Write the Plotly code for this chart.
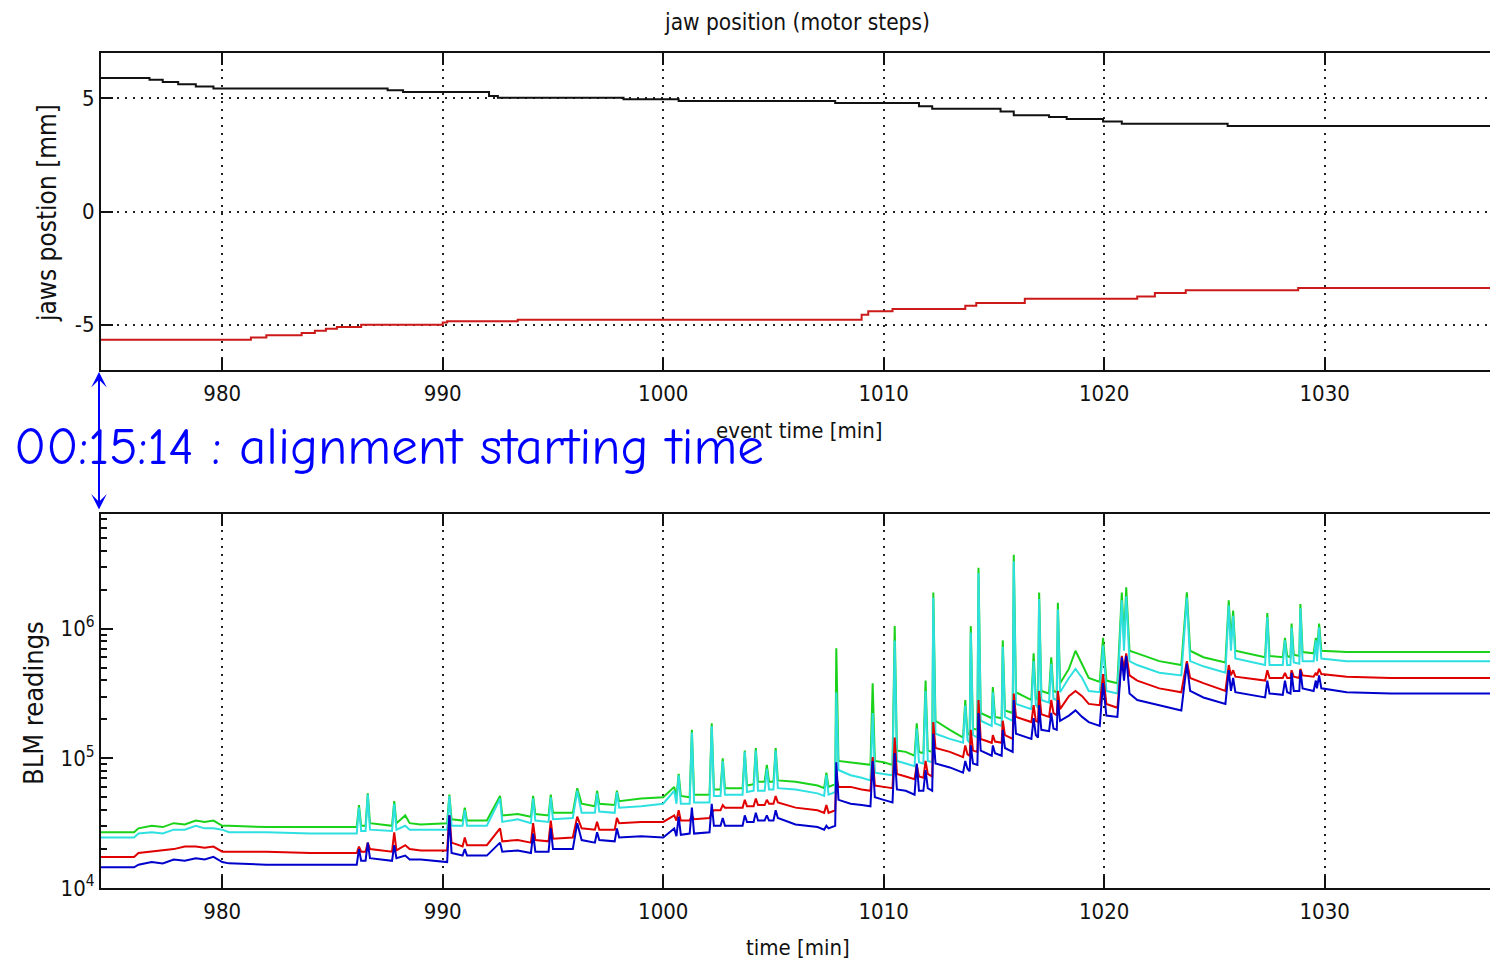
import plotly.graph_objects as go

# ---------------- jaw positions (mm) vs event time (min) ----------------
t_jaw_up = [974.5, 976.7, 977.3, 978.0, 978.8, 979.6, 987.5, 988.2, 992.1, 992.5,
            998.2, 1000.7, 1007.8, 1011.6, 1012.2, 1015.3, 1015.9, 1017.5, 1018.3,
            1019.95, 1020.8, 1025.6, 1037.5]
jaw_up_mm = [5.9, 5.82, 5.72, 5.62, 5.52, 5.43, 5.36, 5.28, 5.1, 5.02,
             4.96, 4.88, 4.79, 4.65, 4.54, 4.42, 4.25, 4.17, 4.08,
             3.98, 3.88, 3.78, 3.78]

t_jaw_low = [974.5, 981.3, 982.0, 983.6, 984.2, 984.7, 985.2, 986.3, 990.0, 990.2,
             993.4, 1009.0, 1009.3, 1010.4, 1013.7, 1014.2, 1016.4, 1021.5, 1022.3,
             1023.7, 1028.8, 1037.5]
jaw_low_mm = [-5.66, -5.56, -5.47, -5.37, -5.27, -5.18, -5.1, -5.0, -4.9, -4.85,
              -4.78, -4.56, -4.41, -4.31, -4.16, -4.04, -3.85, -3.75, -3.6,
              -3.48, -3.38, -3.38]

# ---------------- BLM readings (log10 of reading) vs time (min) ----------------
t_blm = [974.5, 976.0, 976.2, 976.8, 977.3, 977.8, 978.3, 978.8, 979.2, 979.6,
         980.0, 980.3, 982.0, 984.0, 986.1, 986.2, 986.3, 986.5, 986.6, 986.7,
         987.7, 987.8, 987.9, 988.3, 988.5, 989.0, 990.2, 990.3, 990.4, 990.9,
         991.0, 991.1, 992.0, 992.6, 992.7, 993.4, 994.0, 994.1, 994.2, 994.8,
         994.9, 995.0, 995.9, 996.1, 996.3, 996.9, 997.0, 997.1, 997.8, 997.9,
         998.0, 999.0, 1000.0, 1000.5, 1000.6, 1000.7, 1000.8, 1001.2, 1001.3, 1001.4,
         1002.1, 1002.2, 1002.3, 1002.6, 1002.7, 1002.8, 1003.6, 1003.7, 1003.8, 1004.1,
         1004.2, 1004.3, 1004.6, 1004.7, 1004.8, 1005.0, 1005.1, 1005.2, 1006.0, 1007.0,
         1007.3, 1007.4, 1007.5, 1007.8, 1007.85, 1007.95, 1008.5, 1009.0, 1009.4, 1009.5,
         1009.6, 1010.0, 1010.4, 1010.5, 1010.6, 1011.0, 1011.4, 1011.5, 1011.6, 1011.8,
         1011.9, 1012.0, 1012.2, 1012.25, 1012.35, 1013.0, 1013.6, 1013.7, 1013.8, 1013.9,
         1013.95, 1014.05, 1014.25, 1014.3, 1014.4, 1014.9, 1014.95, 1015.05, 1015.35, 1015.4,
         1015.5, 1015.85, 1015.9, 1016.0, 1016.7, 1016.8, 1016.9, 1017.0, 1017.05, 1017.15,
         1017.5, 1017.6, 1017.7, 1017.85, 1017.9, 1018.0, 1018.4, 1018.7, 1019.0, 1019.3,
         1019.8, 1019.95, 1020.1, 1020.6, 1020.8, 1020.9, 1021.0, 1021.15, 1021.5, 1022.5,
         1023.5, 1023.75, 1023.9, 1024.5, 1025.5, 1025.65, 1025.75, 1025.85, 1025.95, 1027.3,
         1027.4, 1027.5, 1028.1, 1028.2, 1028.3, 1028.45, 1028.5, 1028.6, 1028.85, 1028.9,
         1029.0, 1029.5, 1029.6, 1029.65, 1029.75, 1029.85, 1031.0, 1033.0, 1035.0, 1037.5]

blm_green_log10 = [4.43, 4.43, 4.46, 4.48, 4.47, 4.50, 4.49, 4.52, 4.51, 4.52,
                   4.48, 4.48, 4.47, 4.47, 4.47, 4.64, 4.48, 4.48, 4.73, 4.50,
                   4.48, 4.67, 4.50, 4.56, 4.50, 4.49, 4.50, 4.72, 4.53, 4.52,
                   4.62, 4.52, 4.52, 4.71, 4.56, 4.57, 4.55, 4.71, 4.57, 4.56,
                   4.72, 4.58, 4.58, 4.77, 4.65, 4.63, 4.75, 4.65, 4.64, 4.75,
                   4.67, 4.69, 4.70, 4.78, 4.70, 4.88, 4.71, 4.70, 5.22, 4.72,
                   4.72, 5.27, 4.76, 4.76, 5.00, 4.77, 4.77, 5.06, 4.79, 4.80,
                   5.08, 4.82, 4.82, 4.95, 4.82, 4.82, 5.08, 4.83, 4.82, 4.79,
                   4.77, 4.89, 4.78, 4.80, 5.85, 4.98, 4.97, 4.96, 4.95, 5.58,
                   4.98, 4.97, 4.95, 6.02, 5.06, 5.05, 5.02, 5.27, 5.05, 5.04,
                   5.60, 5.06, 5.05, 6.28, 5.29, 5.22, 5.16, 5.45, 5.19, 5.18,
                   6.02, 5.23, 5.22, 6.47, 5.35, 5.31, 5.55, 5.32, 5.31, 5.91,
                   5.37, 5.35, 6.57, 5.51, 5.45, 5.81, 5.47, 5.45, 6.28, 5.52,
                   5.50, 5.78, 5.52, 5.51, 6.20, 5.58, 5.69, 5.83, 5.72, 5.62,
                   5.59, 5.93, 5.60, 5.58, 6.28, 5.91, 6.32, 5.83, 5.81, 5.75,
                   5.72, 6.28, 5.83, 5.78, 5.74, 6.22, 5.91, 6.14, 5.83, 5.78,
                   6.12, 5.79, 5.78, 5.93, 5.79, 5.78, 6.04, 5.80, 5.79, 6.19,
                   5.82, 5.81, 5.93, 5.82, 6.04, 5.83, 5.82, 5.82, 5.82, 5.82]

blm_cyan_log10 = [4.39, 4.39, 4.42, 4.43, 4.42, 4.45, 4.45, 4.48, 4.46, 4.46,
                  4.45, 4.43, 4.43, 4.42, 4.42, 4.62, 4.44, 4.44, 4.72, 4.45,
                  4.44, 4.65, 4.45, 4.48, 4.45, 4.45, 4.45, 4.71, 4.48, 4.48,
                  4.60, 4.48, 4.48, 4.69, 4.51, 4.53, 4.50, 4.69, 4.52, 4.51,
                  4.70, 4.53, 4.54, 4.75, 4.58, 4.58, 4.73, 4.59, 4.58, 4.74,
                  4.62, 4.63, 4.65, 4.75, 4.65, 4.87, 4.65, 4.65, 5.20, 4.66,
                  4.66, 5.25, 4.71, 4.71, 4.98, 4.72, 4.72, 5.05, 4.74, 4.75,
                  5.06, 4.75, 4.75, 4.92, 4.76, 4.76, 5.06, 4.77, 4.76, 4.73,
                  4.71, 4.87, 4.72, 4.74, 5.51, 4.91, 4.87, 4.85, 4.83, 5.35,
                  4.89, 4.88, 4.87, 5.91, 4.98, 4.96, 4.94, 5.23, 4.97, 4.96,
                  5.52, 4.98, 4.97, 6.24, 5.19, 5.15, 5.12, 5.41, 5.14, 5.12,
                  5.97, 5.18, 5.16, 6.43, 5.29, 5.25, 5.51, 5.27, 5.25, 5.86,
                  5.32, 5.29, 6.52, 5.42, 5.38, 5.75, 5.41, 5.39, 6.23, 5.45,
                  5.43, 5.73, 5.46, 5.45, 6.15, 5.51, 5.62, 5.69, 5.62, 5.52,
                  5.51, 5.87, 5.52, 5.50, 6.22, 5.83, 6.25, 5.75, 5.72, 5.66,
                  5.64, 6.24, 5.75, 5.71, 5.66, 6.18, 5.83, 6.10, 5.77, 5.72,
                  6.09, 5.72, 5.72, 5.91, 5.72, 5.72, 6.01, 5.74, 5.73, 6.16,
                  5.75, 5.75, 5.91, 5.75, 6.01, 5.77, 5.75, 5.75, 5.75, 5.75]

blm_red_log10 = [4.24, 4.24, 4.27, 4.28, 4.29, 4.30, 4.32, 4.32, 4.31, 4.32,
                 4.28, 4.28, 4.28, 4.27, 4.27, 4.32, 4.28, 4.28, 4.35, 4.30,
                 4.28, 4.43, 4.29, 4.33, 4.30, 4.29, 4.29, 4.56, 4.35, 4.32,
                 4.39, 4.33, 4.33, 4.46, 4.36, 4.37, 4.35, 4.50, 4.37, 4.36,
                 4.52, 4.38, 4.39, 4.55, 4.46, 4.45, 4.51, 4.45, 4.45, 4.54,
                 4.50, 4.51, 4.51, 4.56, 4.52, 4.60, 4.52, 4.52, 4.56, 4.53,
                 4.54, 4.58, 4.60, 4.60, 4.64, 4.62, 4.62, 4.68, 4.63, 4.63,
                 4.69, 4.64, 4.64, 4.68, 4.65, 4.65, 4.71, 4.66, 4.62, 4.60,
                 4.58, 4.64, 4.58, 4.60, 4.86, 4.78, 4.78, 4.76, 4.75, 5.01,
                 4.79, 4.78, 4.77, 5.16, 4.88, 4.86, 4.84, 4.95, 4.86, 4.85,
                 4.98, 4.88, 4.86, 5.28, 5.08, 5.05, 5.01, 5.10, 5.03, 5.02,
                 5.22, 5.06, 5.05, 5.45, 5.15, 5.12, 5.18, 5.13, 5.12, 5.29,
                 5.18, 5.15, 5.50, 5.32, 5.28, 5.41, 5.29, 5.28, 5.52, 5.34,
                 5.32, 5.45, 5.35, 5.33, 5.52, 5.38, 5.48, 5.52, 5.48, 5.42,
                 5.41, 5.65, 5.42, 5.39, 5.79, 5.69, 5.81, 5.64, 5.60, 5.54,
                 5.51, 5.75, 5.62, 5.58, 5.52, 5.72, 5.64, 5.68, 5.63, 5.60,
                 5.68, 5.62, 5.62, 5.66, 5.62, 5.62, 5.68, 5.63, 5.62, 5.69,
                 5.64, 5.63, 5.66, 5.64, 5.69, 5.65, 5.63, 5.62, 5.62, 5.62]

blm_blue_log10 = [4.16, 4.16, 4.18, 4.20, 4.19, 4.22, 4.21, 4.23, 4.22, 4.24,
                  4.20, 4.19, 4.18, 4.18, 4.18, 4.30, 4.21, 4.21, 4.35, 4.23,
                  4.21, 4.33, 4.23, 4.25, 4.22, 4.22, 4.20, 4.56, 4.27, 4.25,
                  4.30, 4.25, 4.25, 4.35, 4.28, 4.29, 4.27, 4.42, 4.28, 4.28,
                  4.46, 4.30, 4.30, 4.50, 4.37, 4.35, 4.43, 4.37, 4.36, 4.46,
                  4.39, 4.40, 4.39, 4.46, 4.40, 4.55, 4.41, 4.42, 4.62, 4.42,
                  4.43, 4.65, 4.48, 4.48, 4.54, 4.48, 4.48, 4.56, 4.51, 4.51,
                  4.58, 4.52, 4.52, 4.56, 4.52, 4.52, 4.60, 4.54, 4.49, 4.47,
                  4.45, 4.48, 4.46, 4.48, 4.97, 4.68, 4.65, 4.64, 4.63, 4.98,
                  4.70, 4.68, 4.66, 5.04, 4.76, 4.75, 4.72, 4.96, 4.75, 4.75,
                  4.91, 4.77, 4.75, 5.19, 4.96, 4.93, 4.89, 4.98, 4.92, 4.90,
                  5.10, 4.96, 4.95, 5.35, 5.06, 5.02, 5.10, 5.04, 5.02, 5.22,
                  5.08, 5.05, 5.45, 5.19, 5.15, 5.31, 5.18, 5.16, 5.41, 5.22,
                  5.21, 5.35, 5.23, 5.22, 5.45, 5.29, 5.33, 5.37, 5.32, 5.28,
                  5.25, 5.58, 5.33, 5.32, 5.78, 5.60, 5.79, 5.50, 5.45, 5.41,
                  5.37, 5.73, 5.52, 5.47, 5.42, 5.68, 5.52, 5.62, 5.51, 5.47,
                  5.60, 5.50, 5.49, 5.60, 5.51, 5.50, 5.66, 5.52, 5.52, 5.68,
                  5.54, 5.52, 5.60, 5.54, 5.64, 5.54, 5.51, 5.50, 5.50, 5.50]

x_ticks = [980, 990, 1000, 1010, 1020, 1030]
jaw_ticks = [-5, 0, 5]
jaw_ticktext = ["-5", "0", "5"]
blm_ticks = [1e4, 1e5, 1e6]
blm_ticktext = ["10<sup>4</sup>", "10<sup>5</sup>", "10<sup>6</sup>"]
blm_minor = [m * 10 ** e for e in (4, 5, 6) for m in range(2, 10) if m * 10 ** e < 7.6e6]

W, H = 1490, 963
FAM = "DejaVu Sans Condensed, Liberation Sans, Arial"
TICKFONT = dict(family=FAM, size=22, color="#111")


def px(x):
    return x / W


def py(y):
    return 1 - y / H


GRID = dict(showgrid=True, gridcolor="#222", gridwidth=2, griddash="2px,6px")

fig = go.Figure()

fig.add_trace(go.Scatter(x=t_jaw_up, y=jaw_up_mm, mode="lines",
                         line=dict(color="#111111", width=2, shape="hv"),
                         xaxis="x", yaxis="y", showlegend=False))
fig.add_trace(go.Scatter(x=t_jaw_low, y=jaw_low_mm, mode="lines",
                         line=dict(color="#cc1a1a", width=2, shape="hv"),
                         xaxis="x", yaxis="y", showlegend=False))

for vals, col in [(blm_green_log10, "#1ad21a"), (blm_cyan_log10, "#2fe0e0"),
                  (blm_red_log10, "#e00000"), (blm_blue_log10, "#0000cc")]:
    fig.add_trace(go.Scatter(x=t_blm, y=[10 ** v for v in vals], mode="lines",
                             line=dict(color=col, width=2),
                             xaxis="x2", yaxis="y2", showlegend=False))

common_x = dict(range=[974.5, 1037.5], tickmode="array", tickvals=x_ticks,
                ticks="inside", ticklen=12, tickwidth=2, tickcolor="#111",
                showline=True, linecolor="#111", linewidth=2, mirror="ticks",
                zeroline=False, tickfont=TICKFONT, ticklabelstandoff=3,
                automargin=False, **GRID)

fig.update_layout(
    width=W, height=H,
    margin=dict(l=0, r=0, t=0, b=0, autoexpand=False),
    paper_bgcolor="white", plot_bgcolor="white",
    xaxis=dict(domain=[px(101), 1], anchor="y", **common_x),
    yaxis=dict(domain=[py(370), py(53)], anchor="x", range=[-7, 7],
               tickmode="array", tickvals=jaw_ticks, ticktext=jaw_ticktext,
               ticks="inside", ticklen=12, tickwidth=2, tickcolor="#111",
               showline=True, linecolor="#111", linewidth=2, mirror=False,
               zeroline=False, tickfont=TICKFONT, ticklabelstandoff=0,
               automargin=False, **GRID),
    xaxis2=dict(domain=[px(101), 1], anchor="y2", **common_x),
    yaxis2=dict(domain=[py(888), py(514)], anchor="x2", type="log",
                range=[4, 6.885], tickmode="array", tickvals=blm_ticks,
                ticktext=blm_ticktext,
                ticks="inside", ticklen=12, tickwidth=2, tickcolor="#111",
                minor=dict(tickmode="array", tickvals=blm_minor, ticks="inside",
                           ticklen=6, tickwidth=1.5, tickcolor="#111", showgrid=False),
                showline=True, linecolor="#111", linewidth=2, mirror=False,
                zeroline=False, showgrid=False, tickfont=TICKFONT, ticklabelstandoff=0,
                automargin=False),
)

annotations = [
    dict(text="jaw position (motor steps)", x=px(797), y=py(22), xref="paper", yref="paper",
         xanchor="center", yanchor="middle", showarrow=False,
         font=dict(family=FAM, size=22.5, color="#111")),
    dict(text="jaws postion [mm]", x=px(47), y=py(213), xref="paper", yref="paper",
         xanchor="center", yanchor="middle", showarrow=False, textangle=-90,
         font=dict(family=FAM, size=26, color="#111")),
    dict(text="event time [min]", x=px(799), y=py(430), xref="paper", yref="paper",
         xanchor="center", yanchor="middle", showarrow=False,
         font=dict(family=FAM, size=22, color="#111")),
    dict(text="BLM readings", x=px(33), y=py(703), xref="paper", yref="paper",
         xanchor="center", yanchor="middle", showarrow=False, textangle=-90,
         font=dict(family=FAM, size=27, color="#111")),
    dict(text="time [min]", x=px(798), y=py(947), xref="paper", yref="paper",
         xanchor="center", yanchor="middle", showarrow=False,
         font=dict(family=FAM, size=22, color="#111")),
    dict(text="", x=px(99), y=py(372), xref="paper", yref="paper",
         ax=0, ay=139, axref="pixel", ayref="pixel", showarrow=True,
         arrowside="end+start", arrowhead=3, startarrowhead=3,
         arrowsize=1.3, startarrowsize=1.3, arrowwidth=2, arrowcolor="#0000ff"),
    dict(text="00:15:14 : alignment starting time", x=px(12), y=py(447),
         xref="paper", yref="paper", xanchor="left", yanchor="middle", showarrow=False,
         font=dict(family="Comic Sans MS, Comic Neue, Lato", size=53, color="#0000ff")),
]
fig.update_layout(annotations=annotations)

fig.write_html("out.html")
